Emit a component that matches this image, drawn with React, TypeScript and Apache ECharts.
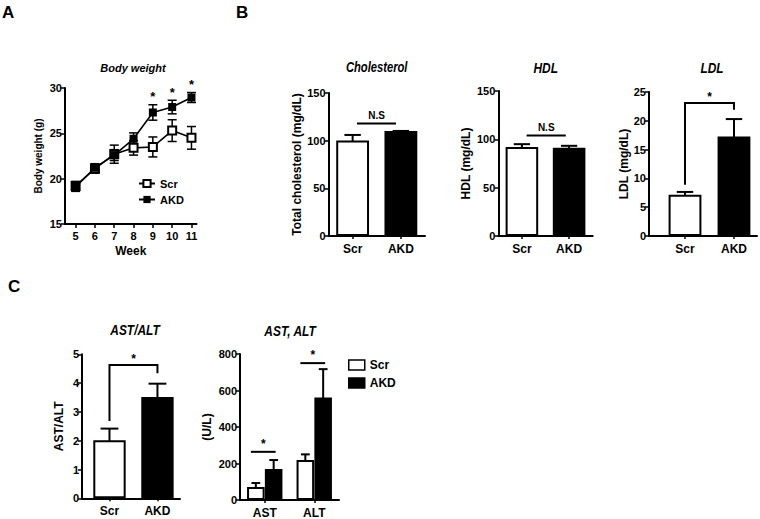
import React, { useEffect, useRef } from "react";
import * as echarts from "echarts";

// ---------------- data ----------------
const weeks = [5, 6, 7, 8, 9, 10, 11];
const bwScr = [19.2, 21.1, 22.7, 23.4, 23.5, 25.3, 24.5];
const bwScrErr = [0.5, 0.5, 1.0, 0.8, 1.1, 1.2, 1.25];
const bwAkd = [19.1, 21.2, 22.6, 24.4, 27.3, 27.9, 28.95];
const bwAkdErr = [0.5, 0.45, 0.6, 0.65, 0.85, 0.75, 0.55];
const bwSigWeeks = [9, 10, 11];

const groups = ["Scr", "AKD"];
const cholMean = [99, 109];
const cholErr = [7, 1.2];
const hdlMean = [91, 90.3];
const hdlErr = [4, 3];
const ldlMean = [7.0, 17.1];
const ldlErr = [0.65, 3.2];
const ratioMean = [1.98, 3.48];
const ratioErr = [0.44, 0.5];

const enzymes = ["AST", "ALT"];
const enzScr = [66, 214];
const enzScrErr = [27, 36];
const enzAkd = [165, 556];
const enzAkdErr = [54, 161];

// significance annotations (data units)
const cholNS = [0.09, 118, 0.9];
const hdlNS = [0.1, 104, 0.93];
const ldlBracket = [0, 8.9, 1, 21.9, 23.1];
const ratioBracket = [0, 2.68, 1, 4.34, 4.63];
const enzSig = [
  [-0.28, 264, 0.22],
  [0.72, 750, 1.22],
];

const FF = '"Liberation Sans", Arial, Helvetica, sans-serif';
const BLACK = "#000";

const barRender = (barW: number, capFrac: number) => (params: any, api: any) => {
  const x = api.value(0);
  const v = api.value(1);
  const e = api.value(2);
  const k = api.value(3);
  const tl = api.coord([x - barW / 2, v]);
  const br = api.coord([x + barW / 2, 0]);
  const top = api.coord([x, v + e]);
  const capL = api.coord([x - (barW * capFrac) / 2, v + e]);
  const capR = api.coord([x + (barW * capFrac) / 2, v + e]);
  return {
    type: "group",
    children: [
      {
        type: "line",
        shape: { x1: top[0], y1: tl[1], x2: top[0], y2: top[1] },
        style: { stroke: BLACK, lineWidth: 2 },
      },
      {
        type: "line",
        shape: { x1: capL[0], y1: capL[1], x2: capR[0], y2: capR[1] },
        style: { stroke: BLACK, lineWidth: 2 },
      },
      {
        type: "rect",
        shape: { x: tl[0] + 1, y: tl[1], width: br[0] - tl[0] - 2, height: br[1] - tl[1] - 1 },
        style: { fill: k ? BLACK : "#fff", stroke: BLACK, lineWidth: 2 },
      },
    ],
  };
};

const nsRender = (label: string, fontSize: number) => (params: any, api: any) => {
  const a = api.coord([api.value(0), api.value(1)]);
  const b = api.coord([api.value(2), api.value(1)]);
  return {
    type: "group",
    children: [
      { type: "line", shape: { x1: a[0], y1: a[1], x2: b[0], y2: b[1] }, style: { stroke: BLACK, lineWidth: 2 } },
      {
        type: "text",
        x: (a[0] + b[0]) / 2,
        y: a[1] - 8,
        style: {
          text: label,
          fill: BLACK,
          font: `bold ${fontSize}px ${FF}`,
          align: "center",
          verticalAlign: "middle",
          textAlign: "center",
          textVerticalAlign: "middle",
        },
      },
    ],
  };
};

const bracketRender = (params: any, api: any) => {
  const xL = api.value(0), yL = api.value(1), xR = api.value(2), yR = api.value(3), yT = api.value(4);
  const p1 = api.coord([xL, yL]);
  const p2 = api.coord([xL, yT]);
  const p3 = api.coord([xR, yT]);
  const p4 = api.coord([xR, yR]);
  return {
    type: "group",
    children: [
      { type: "polyline", shape: { points: [p1, p2, p3, p4] }, style: { stroke: BLACK, lineWidth: 2, fill: "none" } },
      {
        type: "text",
        x: (p2[0] + p3[0]) / 2,
        y: p2[1] - 6,
        style: {
          text: "*",
          fill: BLACK,
          font: `bold 12px ${FF}`,
          align: "center",
          verticalAlign: "middle",
          textAlign: "center",
          textVerticalAlign: "middle",
        },
      },
    ],
  };
};

const gridDefs = [
  { left: 65, top: 88, width: 131.5, height: 136 }, // A body weight
  { left: 328.5, top: 93, width: 96.5, height: 143 }, // cholesterol
  { left: 498.3, top: 91, width: 94.4, height: 145 }, // HDL
  { left: 649, top: 92, width: 108, height: 144 }, // LDL
  { left: 82, top: 354.3, width: 98, height: 144 }, // AST/ALT
  { left: 240, top: 354, width: 99, height: 148.3 }, // AST, ALT
];

const axisLine = { show: true, onZero: false, lineStyle: { color: BLACK, width: 2 } };
const labelStyle = (size: number) => ({ color: BLACK, fontWeight: "bold", fontSize: size, fontFamily: FF });

const barX = (grid: number, min: number, max: number, names: string[]) => ({
  type: "value",
  gridIndex: grid,
  min,
  max,
  axisLine,
  axisTick: { show: true, customValues: [0, 1], length: 3, lineStyle: { color: BLACK, width: 1.5 } },
  axisLabel: {
    ...labelStyle(12),
    customValues: [0, 1],
    margin: 7,
    formatter: (v: number) => names[Math.round(v)] ?? "",
  },
  splitLine: { show: false },
});

const valY = (grid: number, min: number, max: number, interval: number, name: string, nameGap: number, nameSize: number) => ({
  type: "value",
  gridIndex: grid,
  min,
  max,
  interval,
  axisLine,
  axisTick: { show: true, length: 4, lineStyle: { color: BLACK, width: 1.5 } },
  axisLabel: { ...labelStyle(11), margin: 3 },
  splitLine: { show: false },
  name,
  nameLocation: "middle",
  nameGap,
  nameTextStyle: labelStyle(nameSize),
});

const titleText = (text: string, x: number, y: number, size: number, italic = true, scaleX = 1) => ({
  type: "text",
  x,
  y,
  scaleX,
  style: {
    text,
    fill: BLACK,
    font: `${italic ? "italic " : ""}bold ${size}px ${FF}`,
    align: italic ? "center" : "left",
    verticalAlign: "middle",
    textAlign: italic ? "center" : "left",
    textVerticalAlign: "middle",
  },
});

export default function App() {
  const ref = useRef<HTMLDivElement>(null);

  useEffect(() => {
    document.body.style.margin = "0";
    if (!ref.current) return;
    const chart = echarts.init(ref.current, null, { renderer: "svg" });

    const option: any = {
      animation: false,
      backgroundColor: "#fff",
      grid: gridDefs.map((g) => ({ ...g, containLabel: false })),
      graphic: [
        titleText("A", 2, 12, 17, false),
        titleText("B", 236, 12, 17, false),
        titleText("C", 8, 286, 17, false),
        titleText("Body weight", 133, 68, 11),
        titleText("Cholesterol", 376.7, 68, 14, true, 0.8),
        titleText("HDL", 545.7, 68, 14, true, 0.85),
        titleText("LDL", 712, 68, 14, true, 0.85),
        titleText("AST/ALT", 135, 330, 14, true, 0.85),
        titleText("AST, ALT", 290, 331, 14, true, 0.85),
      ],
      legend: [
        {
          data: ["Scr", "AKD"],
          orient: "vertical",
          left: 138,
          top: 178,
          itemWidth: 16,
          itemHeight: 9,
          itemGap: 5,
          padding: 0,
          selectedMode: false,
          textStyle: labelStyle(11),
        },
        {
          data: [
            { name: "Scr", icon: "rect", itemStyle: { color: "#fff", borderColor: BLACK, borderWidth: 1.5 } },
            { name: "AKD", icon: "rect", itemStyle: { color: BLACK, borderColor: BLACK, borderWidth: 1.5 } },
          ],
          orient: "vertical",
          left: 348,
          top: 359,
          itemWidth: 16,
          itemHeight: 10,
          itemGap: 6,
          padding: 0,
          selectedMode: false,
          textStyle: labelStyle(12),
        },
      ],
      xAxis: [
        {
          type: "value",
          gridIndex: 0,
          min: 4.45,
          max: 11.26,
          axisLine,
          axisTick: { show: true, customValues: weeks, length: 4, lineStyle: { color: BLACK, width: 1.5 } },
          axisLabel: { ...labelStyle(11), customValues: weeks, margin: 6 },
          splitLine: { show: false },
          name: "Week",
          nameLocation: "middle",
          nameGap: 21,
          nameTextStyle: labelStyle(12),
        },
        barX(1, -0.5, 1.5, groups),
        barX(2, -0.5, 1.5, groups),
        barX(3, -0.735, 1.47, groups),
        barX(4, -0.573, 1.47, groups),
        barX(5, -0.5, 1.5, enzymes),
      ],
      yAxis: [
        valY(0, 15, 30, 5, "Body weight (g)", 22, 10),
        valY(1, 0, 150, 50, "Total cholesterol (mg/dL)", 26, 12),
        valY(2, 0, 150, 50, "HDL (mg/dL)", 26, 12),
        valY(3, 0, 25, 5, "LDL (mg/dL)", 16, 12),
        valY(4, 0, 5, 1, "AST/ALT", 17, 12),
        valY(5, 0, 800, 200, "(U/L)", 27, 12),
      ],
      series: [
        // ---- A: body weight
        {
          type: "custom",
          name: "bwErr",
          xAxisIndex: 0,
          yAxisIndex: 0,
          z: 1,
          data: [
            ...weeks.map((w, i) => [w, bwScr[i], bwScrErr[i]]),
            ...weeks.map((w, i) => [w, bwAkd[i], bwAkdErr[i]]),
          ],
          renderItem: (params: any, api: any) => {
            const x = api.value(0), v = api.value(1), e = api.value(2);
            const t = api.coord([x, v + e]);
            const b = api.coord([x, v - e]);
            const s = { stroke: BLACK, lineWidth: 1.5 };
            return {
              type: "group",
              children: [
                { type: "line", shape: { x1: t[0], y1: t[1], x2: b[0], y2: b[1] }, style: s },
                { type: "line", shape: { x1: t[0] - 4.5, y1: t[1], x2: t[0] + 4.5, y2: t[1] }, style: s },
                { type: "line", shape: { x1: b[0] - 4.5, y1: b[1], x2: b[0] + 4.5, y2: b[1] }, style: s },
              ],
            };
          },
        },
        {
          type: "line",
          name: "Scr",
          xAxisIndex: 0,
          yAxisIndex: 0,
          z: 3,
          data: weeks.map((w, i) => [w, bwScr[i]]),
          symbol: "emptyRect",
          symbolSize: 8,
          showAllSymbol: true,
          itemStyle: { color: BLACK, borderColor: BLACK, borderWidth: 1.6 },
          lineStyle: { color: BLACK, width: 1.6 },
        },
        {
          type: "line",
          name: "AKD",
          xAxisIndex: 0,
          yAxisIndex: 0,
          z: 4,
          data: weeks.map((w, i) => [w, bwAkd[i]]),
          symbol: "rect",
          symbolSize: 8,
          showAllSymbol: true,
          itemStyle: { color: BLACK },
          lineStyle: { color: BLACK, width: 1.6 },
        },
        {
          type: "custom",
          name: "bwSig",
          xAxisIndex: 0,
          yAxisIndex: 0,
          z: 5,
          data: bwSigWeeks.map((w) => {
            const i = weeks.indexOf(w);
            return [w, bwAkd[i] + bwAkdErr[i]];
          }),
          renderItem: (params: any, api: any) => {
            const p = api.coord([api.value(0), api.value(1)]);
            return {
              type: "text",
              x: p[0],
              y: p[1] - 8,
              style: {
                text: "*",
                fill: BLACK,
                font: `bold 13px ${FF}`,
                align: "center",
                verticalAlign: "middle",
                textAlign: "center",
                textVerticalAlign: "middle",
              },
            };
          },
        },
        // ---- B: cholesterol
        {
          type: "custom",
          name: "chol",
          xAxisIndex: 1,
          yAxisIndex: 1,
          data: groups.map((g, i) => [i, cholMean[i], cholErr[i], i]),
          renderItem: barRender(0.68, 0.5),
        },
        { type: "custom", xAxisIndex: 1, yAxisIndex: 1, data: [cholNS], renderItem: nsRender("N.S", 10) },
        // HDL
        {
          type: "custom",
          name: "hdl",
          xAxisIndex: 2,
          yAxisIndex: 2,
          data: groups.map((g, i) => [i, hdlMean[i], hdlErr[i], i]),
          renderItem: barRender(0.69, 0.5),
        },
        { type: "custom", xAxisIndex: 2, yAxisIndex: 2, data: [hdlNS], renderItem: nsRender("N.S", 10) },
        // LDL
        {
          type: "custom",
          name: "ldl",
          xAxisIndex: 3,
          yAxisIndex: 3,
          data: groups.map((g, i) => [i, ldlMean[i], ldlErr[i], i]),
          renderItem: barRender(0.67, 0.5),
        },
        { type: "custom", xAxisIndex: 3, yAxisIndex: 3, data: [ldlBracket], renderItem: bracketRender },
        // ---- C: AST/ALT ratio
        {
          type: "custom",
          name: "ratio",
          xAxisIndex: 4,
          yAxisIndex: 4,
          data: groups.map((g, i) => [i, ratioMean[i], ratioErr[i], i]),
          renderItem: barRender(0.675, 0.55),
        },
        { type: "custom", xAxisIndex: 4, yAxisIndex: 4, data: [ratioBracket], renderItem: bracketRender },
        // AST, ALT
        {
          type: "custom",
          name: "enz",
          xAxisIndex: 5,
          yAxisIndex: 5,
          data: [
            ...enzymes.map((e, i) => [i - 0.18, enzScr[i], enzScrErr[i], 0]),
            ...enzymes.map((e, i) => [i + 0.18, enzAkd[i], enzAkdErr[i], 1]),
          ],
          renderItem: barRender(0.355, 0.5),
        },
        { type: "custom", xAxisIndex: 5, yAxisIndex: 5, data: enzSig, renderItem: nsRender("*", 12) },
      ],
    };

    chart.setOption(option);
    return () => chart.dispose();
  }, []);

  return <div ref={ref} style={{ width: 760, height: 519 }} />;
}
